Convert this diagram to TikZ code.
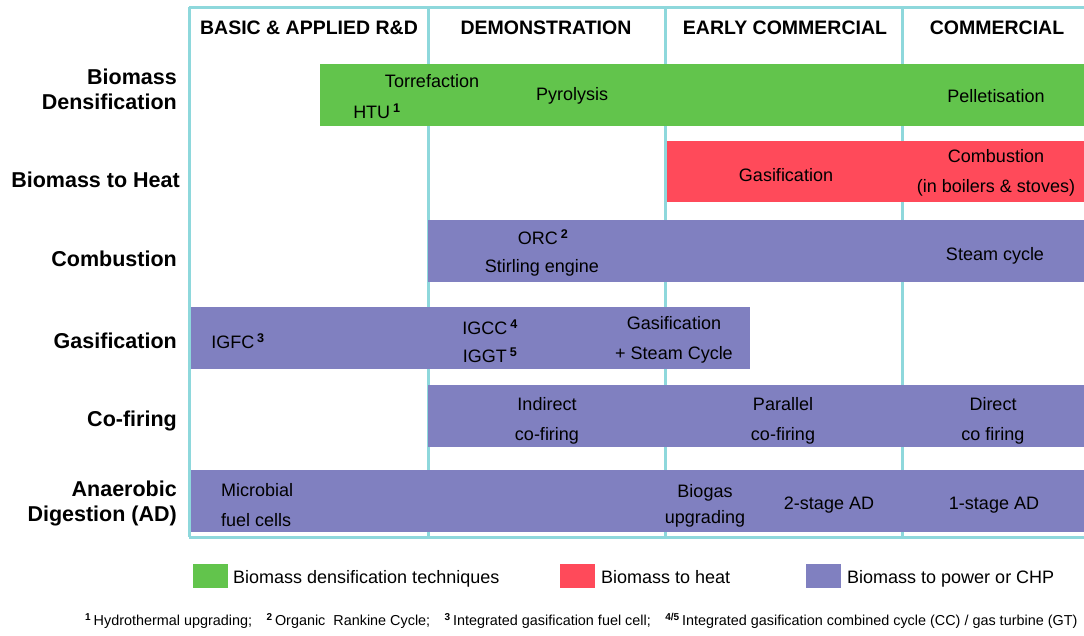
\documentclass[tikz,border=0pt]{standalone}
\usepackage{fontspec}
\setmainfont{Liberation Sans}

\definecolor{gridline}{RGB}{142,216,220}
\definecolor{densify}{RGB}{98,196,76}
\definecolor{heat}{RGB}{255,74,90}
\definecolor{power}{RGB}{128,128,192}

\tikzset{
  stage/.style={font=\fontsize{19.5}{22}\selectfont\bfseries, inner sep=0pt},
  rowlabel/.style={anchor=east, align=right, inner sep=0pt,
    font=\fontsize{21.5}{25}\selectfont\bfseries},
  tech/.style={align=center, inner sep=0pt, font=\fontsize{18}{30}\selectfont},
  gridrule/.style={draw=gridline, line width=3pt},
  bar/.style={fill=#1},
  legendbox/.style={fill=#1, minimum width=35pt, minimum height=24pt,
    inner sep=0pt, anchor=west},
  legendtext/.style={anchor=base west, inner sep=0pt, font=\fontsize{18}{20}\selectfont},
  note/.style={inner sep=0pt, font=\fontsize{14.4}{16}\selectfont},
}
\newcommand{\fn}[1]{\,\textsuperscript{\bfseries #1}}

\begin{document}
\begin{tikzpicture}[x=1pt,y=-1pt]
  \useasboundingbox (0,0) rectangle (1084,635);

  % stage columns
  \draw[gridrule] (189,7) -- (1084,7);
  \foreach \cx in {189,428,665,902}
    \draw[gridrule] (\cx,7) -- (\cx,537);
  \draw[gridrule] (189,537) -- (1084,537);

  \node[stage] (rd)   at (309,28) {BASIC \& APPLIED R\&D};
  \node[stage] (demo) at (546,28) {DEMONSTRATION};
  \node[stage] (early) at (785,28) {EARLY COMMERCIAL};
  \node[stage] (comm) at (997,28) {COMMERCIAL};

  % rows
  \node[rowlabel] (densrow) at (177,89) {Biomass\\Densification};
  \node[rowlabel] (heatrow) at (180,180) {Biomass to Heat};
  \node[rowlabel] (combrow) at (177,259) {Combustion};
  \node[rowlabel] (gasrow)  at (177,341) {Gasification};
  \node[rowlabel] (cofrow)  at (177,421) {Co-firing};
  \node[rowlabel] (adrow)   at (177,503) {Anaerobic\\Digestion (AD)};

  % bars
  \fill[bar=densify] (320,64) rectangle (1084,126);
  \fill[bar=heat] (667,141) rectangle (1084,202);
  \fill[bar=power] (428,220) rectangle (1084,282);
  \fill[bar=power] (191,307) rectangle (750,369);
  \fill[bar=power] (428,385) rectangle (1084,447);
  \fill[bar=power] (191,470) rectangle (1084,532);

  % densification
  \node[tech] (torr)  at (432,81) {Torrefaction};
  \node[tech] (htu)   at (377,111) {HTU\fn{1}};
  \node[tech] (pyro)  at (572,96) {Pyrolysis};
  \node[tech] (pell)  at (996,96) {Pelletisation};
  % heat
  \node[tech] (gasheat) at (786,175) {Gasification};
  \node[tech] (combheat) at (996,173) {Combustion\\(in boilers \& stoves)};
  % combustion
  \node[tech] (orc)   at (543,237) {ORC\fn{2}};
  \node[tech] (stirl) at (542,268) {Stirling engine};
  \node[tech] (steam) at (995,256) {Steam cycle};
  % gasification
  \node[tech] (igfc)  at (238,341) {IGFC\fn{3}};
  \node[tech] (igcc)  at (490,327) {IGCC\fn{4}};
  \node[tech] (iggt)  at (490,355) {IGGT\fn{5}};
  \node[tech] (gassteam) at (674,340) {Gasification\\+ Steam Cycle};
  % co-firing
  \node[tech] (indir) at (547,421) {Indirect\\co-firing};
  \node[tech] (paral) at (783,421) {Parallel\\co-firing};
  \node[tech] (direc) at (993,421) {Direct\\co firing};
  % anaerobic digestion
  \node[tech, align=left, anchor=west] (mfc) at (221,505) {Microbial\\fuel cells};
  \node[tech, font=\fontsize{18}{26}\selectfont] (biogas) at (705,506) {Biogas\\upgrading};
  \node[tech] (twostage) at (829,505) {2-stage AD};
  \node[tech] (onestage) at (994,505) {1-stage AD};

  % legend
  \node[legendbox=densify] (lgreen) at (193,576) {};
  \node[legendtext] (tgreen) at (233,583) {Biomass densification techniques};
  \node[legendbox=heat] (lred) at (560,576) {};
  \node[legendtext] (tred) at (601,583) {Biomass to heat};
  \node[legendbox=power] (lblue) at (806,576) {};
  \node[legendtext] (tblue) at (847,583) {Biomass to power or CHP};

  % footnotes
  \node[note, anchor=west] (notes) at (85,621) {\textsuperscript{\bfseries 1}\,Hydrothermal upgrading;\quad \textsuperscript{\bfseries 2}\,Organic\ \ Rankine Cycle;\quad \textsuperscript{\bfseries 3}\,Integrated gasification fuel cell;\quad \textsuperscript{\bfseries 4/5}\,Integrated gasification combined cycle (CC) / gas turbine (GT)};
\end{tikzpicture}
\end{document}
